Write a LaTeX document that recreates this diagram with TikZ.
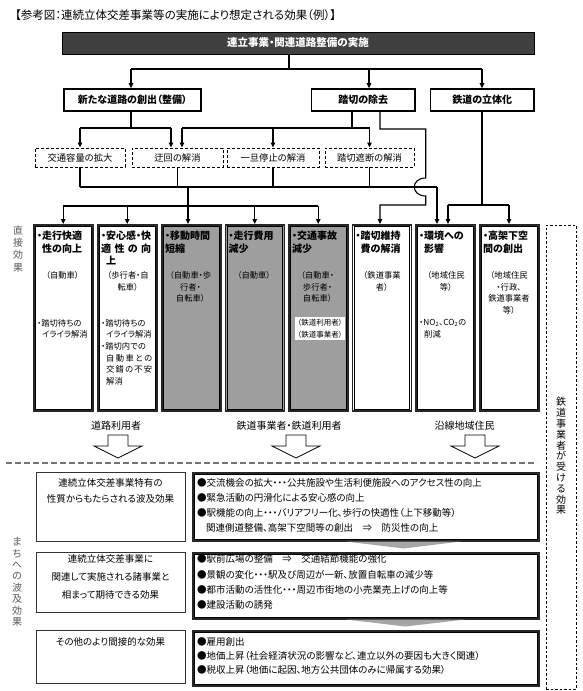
\documentclass[tikz,border=0pt]{standalone}
\usepackage{fontspec}
\usepackage{graphicx}
\setmainfont[RawFeature={+palt}]{Noto Sans CJK JP}
\usetikzlibrary{arrows.meta}
\newcommand\innerframe[1]{\draw[line width=0.6pt] ([shift={(2.7pt,-2.7pt)}]#1.north west) rectangle ([shift={(-2.7pt,2.7pt)}]#1.south east);}
\begin{document}
\begin{tikzpicture}[x=1pt,y=-1pt,
 ln/.style={line width=1.1pt},
 arr/.style={line width=1.1pt,-{Triangle[length=5pt,width=4.6pt]}},
 lvl/.style={draw,line width=1.7pt,minimum height=22pt,inner sep=0,font=\bfseries\fontsize{10}{12}\selectfont},
 dbox/.style={draw,line width=0.9pt,dash pattern=on 3pt off 2pt,minimum height=19pt,inner sep=0,font=\fontsize{9.3}{11}\selectfont},
 ebox/.style={draw=black!85,line width=1.5pt,minimum width=59pt,minimum height=186pt,inner sep=0,anchor=north west},
 hd/.style={anchor=north west,align=left,inner sep=0,font=\bfseries\fontsize{10}{12.5}\selectfont},
 subc/.style={anchor=north,align=center,inner sep=0,font=\fontsize{8.3}{11.8}\selectfont},
 subl/.style={anchor=north west,align=left,inner sep=0,font=\fontsize{8.3}{11.7}\selectfont},
 grp/.style={inner sep=0,font=\fontsize{10}{12}\selectfont},
 lbox/.style={draw=black!80,line width=0.8pt,inner sep=0,anchor=north west},
 rbox/.style={draw=black!85,line width=1.6pt,inner sep=0,anchor=north west},
 ltxt/.style={anchor=north,align=center,inner sep=0,font=\fontsize{9.5}{16}\selectfont},
 rtxt/.style={anchor=north west,align=left,inner sep=0,font=\fontsize{9.5}{15}\selectfont},
 vlab/.style={align=center,inner sep=0,text=black!65,font=\fontsize{10}{12.2}\selectfont},
 funnel/.style={fill=black!35},
 hollow/.style={draw,line width=0.8pt,fill=white},
]
\fill[white] (0,0) rectangle (583,691);
\useasboundingbox (0,0) rectangle (583,691);

% title
\node[anchor=west,inner sep=0,font=\fontsize{11.5}{14}\selectfont] (title) at (15,15) {【参考図：連続立体交差事業等の実施により想定される効果（例）】};

% top box
\node[draw=black,line width=1pt,fill=black!75,text=white,font=\bfseries\fontsize{10.5}{12}\selectfont,minimum width=472pt,minimum height=22pt,inner sep=0] (top) at (298,43) {連立事業・関連道路整備の実施};

% level 2
\node[lvl,minimum width=137pt] (new) at (132.5,100) {新たな道路の創出（整備）};
\node[lvl,minimum width=103.5pt] (fumi) at (363.25,100) {踏切の除去};
\node[lvl,minimum width=103.5pt] (rit) at (482.25,100) {鉄道の立体化};

\coordinate (j0) at (289,69);
\coordinate (jL) at (131,69);
\coordinate (jM) at (369,69);
\coordinate (jR) at (482,69);
\draw[ln] (top.south -| j0) -- (j0);
\draw[ln] (jL) -- (jR);
\draw[arr] (jL) -- (jL |- new.north);
\draw[arr] (jM) -- (jM |- fumi.north);
\draw[arr] (jR) -- (jR |- rit.north);

% dashed boxes
\node[dbox,minimum width=90pt] (d1) at (80,157.5) {交通容量の拡大};
\node[dbox,minimum width=91pt] (d2) at (177.5,157.5) {迂回の解消};
\node[dbox,minimum width=92pt] (d3) at (273,157.5) {一旦停止の解消};
\node[dbox,minimum width=89pt] (d4) at (369.5,157.5) {踏切遮断の解消};

% from 新たな道路
\coordinate (n1) at (131,128);
\coordinate (n1a) at (171,128);
\draw[ln] (n1 |- new.south) -- (n1);
\draw[ln] (d1.north |- n1) -- (n1a);
\draw[arr] (d1.north |- n1) -- (d1.north);
\draw[arr] (n1a) -- (n1a |- d2.north);

% from 踏切の除去
\coordinate (f1) at (352,128);
\coordinate (f1a) at (182,128);
\draw[ln] (f1 |- fumi.south) -- (f1);
\draw[ln] (f1a) -- (d4.north |- f1);
\draw[arr] (f1a) -- (f1a |- d2.north);
\draw[arr] (d3.north |- f1) -- (d3.north);
\draw[arr] (d4.north |- f1) -- (d4.north);

% effect boxes
\node[ebox] (e1) at (33,224) {};
\node[ebox] (e2) at (97,224) {};
\node[ebox,fill=black!38] (e3) at (161,224) {};
\node[ebox,fill=black!38] (e4) at (224.5,224) {};
\node[ebox,fill=black!38] (e5) at (288,224) {};
\node[ebox] (e6) at (351.5,224) {};
\node[ebox] (e7) at (415,224) {};
\node[ebox] (e8) at (479,224) {};
\innerframe{e1}\innerframe{e2}\innerframe{e3}\innerframe{e4}
\innerframe{e5}\innerframe{e6}\innerframe{e7}\innerframe{e8}

% bus from dashed boxes
\coordinate (busL) at (80,187);
\coordinate (busR) at (437,187);
\draw[ln] (busL) -- (busR);
\draw[ln] (d1.south) -- (d1.south |- busL);
\draw[ln] (d2.south) -- (d2.south |- busL);
\draw[ln] (d3.south) -- (d3.south |- busL);
\draw[ln] (d4.south) -- (d4.south |- busL);
\draw[arr] (busR) -- (busR |- e7.north);
\coordinate (dropT) at (188,187);
\coordinate (dropB) at (188,206);
\draw[ln] (dropT) -- (dropB);
\draw[ln] (e1.north |- dropB) -- (e5.north |- dropB);
\draw[arr] (e1.north |- dropB) -- (e1.north);
\draw[arr] (e2.north |- dropB) -- (e2.north);
\draw[arr] (dropB) -- (dropB |- e3.north);
\draw[arr] (e4.north |- dropB) -- (e4.north);
\draw[arr] (e5.north |- dropB) -- (e5.north);

% second line from 踏切の除去 with line jump
\coordinate (g0) at (380,111);
\coordinate (g1) at (380,129);
\coordinate (g2) at (425.7,129);
\coordinate (g3) at (425.7,178);
\coordinate (g4) at (425.7,196);
\coordinate (g5) at (425.7,205);
\coordinate (g6) at (380,205);
\draw[arr] (g0) -- (g1) -- (g2) -- (g3) .. controls (410.5,178) and (410.5,196) .. (g4) -- (g5) -- (g6) -- (g6 |- e6.north);

% from 鉄道の立体化
\coordinate (r1) at (482,205);
\coordinate (r1a) at (448,205);
\coordinate (r1b) at (509,205);
\draw[ln] (r1 |- rit.south) -- (r1);
\draw[ln] (r1a) -- (r1b);
\draw[arr] (r1a) -- (r1a |- e7.north);
\draw[arr] (r1b) -- (r1b |- e8.north);

% effect box texts
\node[hd] (h1) at (37,231) {・走行快適\\\hspace*{5pt}性の向上};
\node[subc] (s1) at (62.5,271) {（自動車）};
\node[subl] (t1) at (37,319) {・踏切待ちの\\\hspace*{5pt}イライラ解消};

\node[hd] (h2) at (101,231) {・安心感・快\\\makebox[50pt][s]{適\hfill 性\hfill の\hfill 向}\\\hspace*{5pt}上};
\node[subc] (s2) at (128,271) {（歩行者・自\\転車）};
\node[subl] (t2) at (101,319) {・踏切待ちの\\\hspace*{5pt}イライラ解消\\・踏切内での\\\hspace*{5pt}\makebox[46pt][s]{自\hfill 動\hfill 車\hfill と\hfill の}\\\hspace*{5pt}\makebox[46pt][s]{交\hfill 錯\hfill の\hfill 不\hfill 安}\\\hspace*{5pt}解消};

\node[hd] (h3) at (165,231) {・移動時間\\短縮};
\node[subc] (s3) at (190.5,271) {（自動車・歩\\行者・\\自転車）};

\node[hd] (h4) at (228.5,231) {・走行費用\\減少};
\node[subc] (s4) at (254,271) {（自動車）};

\node[hd] (h5) at (292,231) {・交通事故\\減少};
\node[subc] (s5) at (317.5,271) {（自動車・\\歩行者・\\自転車）};
\node[fill=white,minimum width=50pt,minimum height=23pt,inner sep=0] (w5) at (320,328.5) {};
\node[align=center,inner sep=0,font=\fontsize{7.5}{11.5}\selectfont] (w5t) at (w5) {（鉄道利用者）\\（鉄道事業者）};

\node[hd] (h6) at (355.5,231) {・踏切維持\\\hspace*{5pt}費の解消};
\node[subc] (s6) at (382,271) {（鉄道事業\\者）};

\node[hd] (h7) at (419,231) {・環境への\\\hspace*{5pt}影響};
\node[subc] (s7) at (446,271) {（地域住民\\等）};
\node[subl] (t7) at (419,319) {・NO\textsubscript{2}、CO\textsubscript{2}の\\\hspace*{5pt}削減};

\node[hd] (h8) at (483,231) {・高架下空\\間の創出};
\node[subc] (s8) at (509,271) {（地域住民\\・行政、\\鉄道事業者\\等）};

% left vertical labels
\node[vlab] (lab1) at (18,249) {直\\接\\効\\果};
\node[vlab,font=\fontsize{10}{11.4}\selectfont] (lab2) at (17,582) {ま\\ち\\へ\\の\\波\\及\\効\\果};

% group labels
\node[grp] (g-road) at (116,426) {道路利用者};
\node[grp] (g-rail) at (289,426) {鉄道事業者・鉄道利用者};
\node[grp] (g-res) at (464.5,426) {沿線地域住民};

% hollow arrows
\foreach \c in {118,296,475}{
 \draw[hollow] ({\c-10},435) -- ({\c+10},435) -- ({\c+10},446) -- ({\c+24},446) -- (\c,458) -- ({\c-24},446) -- ({\c-10},446) -- cycle;
}

% dashed separator
\draw[line width=2pt,black!55,dash pattern=on 6pt off 3pt] (6,463) -- (537,463);

% right dashed box
\node[draw,line width=0.8pt,dash pattern=on 2.5pt off 2pt,minimum width=30pt,minimum height=464pt,inner sep=0] (rb) at (561,457) {};
\node[align=center,inner sep=0,font=\fontsize{10}{10.8}\selectfont] (rbt) at (561,456) {鉄\\道\\事\\業\\者\\が\\受\\け\\る\\効\\果};

% lower section boxes
\node[lbox,minimum width=149pt,minimum height=69pt] (L1) at (36,472) {};
\node[lbox,minimum width=149pt,minimum height=60pt] (L2) at (36,552) {};
\node[lbox,minimum width=149pt,minimum height=53pt] (L3) at (36,630) {};
\node[rbox,minimum width=346pt,minimum height=68pt] (R1) at (192,472) {};
\node[rbox,minimum width=346pt,minimum height=66pt] (R2) at (192,552) {};
\node[rbox,minimum width=346pt,minimum height=55pt] (R3) at (192,630) {};
\innerframe{R1}\innerframe{R2}\innerframe{R3}

% funnels
\fill[funnel] (346,541.5) -- (461,541.5) -- (403.5,548.5) -- cycle;
\fill[funnel] (346,619.5) -- (465,619.5) -- (405.5,626.5) -- cycle;

\node[ltxt] (L1t) at (110.5,478.3) {連続立体交差事業特有の\\性質からもたらされる波及効果};
\node[ltxt,font=\fontsize{9.5}{18}\selectfont] (L2t) at (110.5,554.6) {連続立体交差事業に\\関連して実施される諸事業と\\相まって期待できる効果};
\node[ltxt] (L3t) at (110.5,637.3) {その他のより間接的な効果};

\node[rtxt] (R1t) at (197,478.3) {●交流機会の拡大・・・公共施設や生活利便施設へのアクセス性の向上\\●緊急活動の円滑化による安心感の向上\\●駅機能の向上・・・バリアフリー化、歩行の快適性（上下移動等）\\\hspace*{9pt}関連側道整備、高架下空間等の創出　⇒　防災性の向上};
\node[rtxt,font=\fontsize{9.5}{15.3}\selectfont] (R2t) at (197,554.6) {●駅前広場の整備　⇒　交通結節機能の強化\\●景観の変化・・・駅及び周辺が一新、放置自転車の減少等\\●都市活動の活性化・・・周辺市街地の小売業売上げの向上等\\●建設活動の誘発};
\node[rtxt,font=\fontsize{9.5}{14}\selectfont] (R3t) at (197,637.3) {●雇用創出\\●地価上昇（社会経済状況の影響など、連立以外の要因も大きく関連）\\●税収上昇（地価に起因、地方公共団体のみに帰属する効果）};

\end{tikzpicture}
\end{document}
